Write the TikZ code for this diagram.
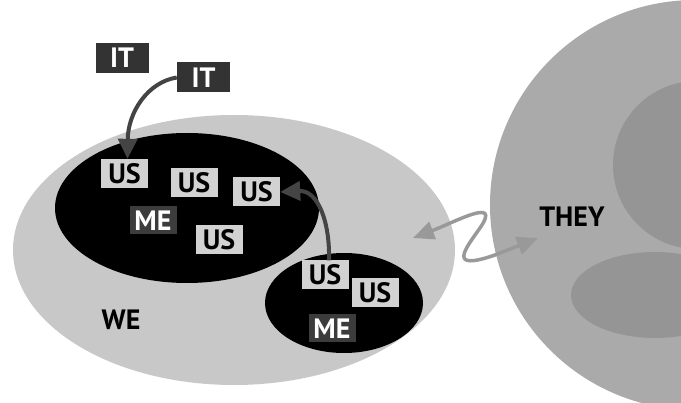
\documentclass[tikz,border=0pt]{standalone}
\usepackage{fontspec}
\setmainfont{PT Sans}
\usetikzlibrary{arrows.meta}
\definecolor{wegray}{HTML}{C8C8C8}
\definecolor{theygray}{HTML}{AAAAAA}
\definecolor{innergray}{HTML}{959595}
\definecolor{boxlight}{HTML}{D2D2D2}
\definecolor{boxdark}{HTML}{333333}
\definecolor{medark}{HTML}{3C3C3C}
\definecolor{arrowdark}{HTML}{444444}
\definecolor{arrowlight}{HTML}{999999}
\tikzset{
  lbl/.style={font=\bfseries\fontsize{28}{28}\selectfont, inner sep=0pt},
  usbox/.style={lbl, fill=boxlight, text=black, minimum width=47pt, minimum height=29pt},
  mebox/.style={lbl, fill=medark, text=white, minimum width=47pt, minimum height=28pt},
  itbox/.style={lbl, fill=boxdark, text=white, minimum width=53pt, minimum height=30pt},
  darkarrow/.style={draw=arrowdark, line width=4pt, -{Triangle[length=20pt,width=19pt]}},
  lightarrow/.style={draw=arrowlight, line width=3.5pt, {Triangle[length=21pt,width=18pt]}-{Triangle[length=21pt,width=18pt]}}
}
\begin{document}
\begin{tikzpicture}[x=1pt,y=-1pt]
\useasboundingbox (0,0) rectangle (681,403);
\clip (0,0) rectangle (681,403);
% the WE group and its two clusters
\fill[wegray] (234,250) ellipse [x radius=221, y radius=135];
\fill[black] (187,208) ellipse [x radius=132, y radius=75];
\fill[black] (344,303) ellipse [x radius=79, y radius=50];
% the THEY group
\fill[theygray] (695,205) circle [radius=205];
\fill[innergray] (697,165) circle [radius=84];
\fill[innergray] (655,295) ellipse [x radius=84, y radius=43];
% labels
\node[itbox] (it1) at (122,58) {IT};
\node[itbox] (it2) at (203.5,77.5) {IT};
\node[usbox] (us1) at (124.5,173.5) {US};
\node[usbox] (us2) at (194,183) {US};
\node[usbox] (us3) at (256.5,192) {US};
\node[mebox] (me1) at (153,220.5) {ME};
\node[usbox] (us4) at (219,240) {US};
\node[usbox] (us5) at (325,275) {US};
\node[usbox] (us6) at (375,292.5) {US};
\node[mebox] (me2) at (332,328.5) {ME};
\node[lbl] (we) at (121,320) {WE};
\node[lbl] (they) at (572,217) {THEY};
% connectors
\draw[darkarrow] (it2.west) .. controls (148,82) and (128,112) .. ([xshift=3pt]us1.north);
\draw[darkarrow] ([xshift=4pt]us5.north) .. controls (330,222) and (318,190) .. (us3.east);
\coordinate (pl) at (413,238);
\coordinate (pr) at (538,238);
\draw[lightarrow] (pl) .. controls (455,222) and (502,196) .. (480,228)
  .. controls (466,248) and (446,272) .. (495,255) -- (pr);
\end{tikzpicture}
\end{document}
